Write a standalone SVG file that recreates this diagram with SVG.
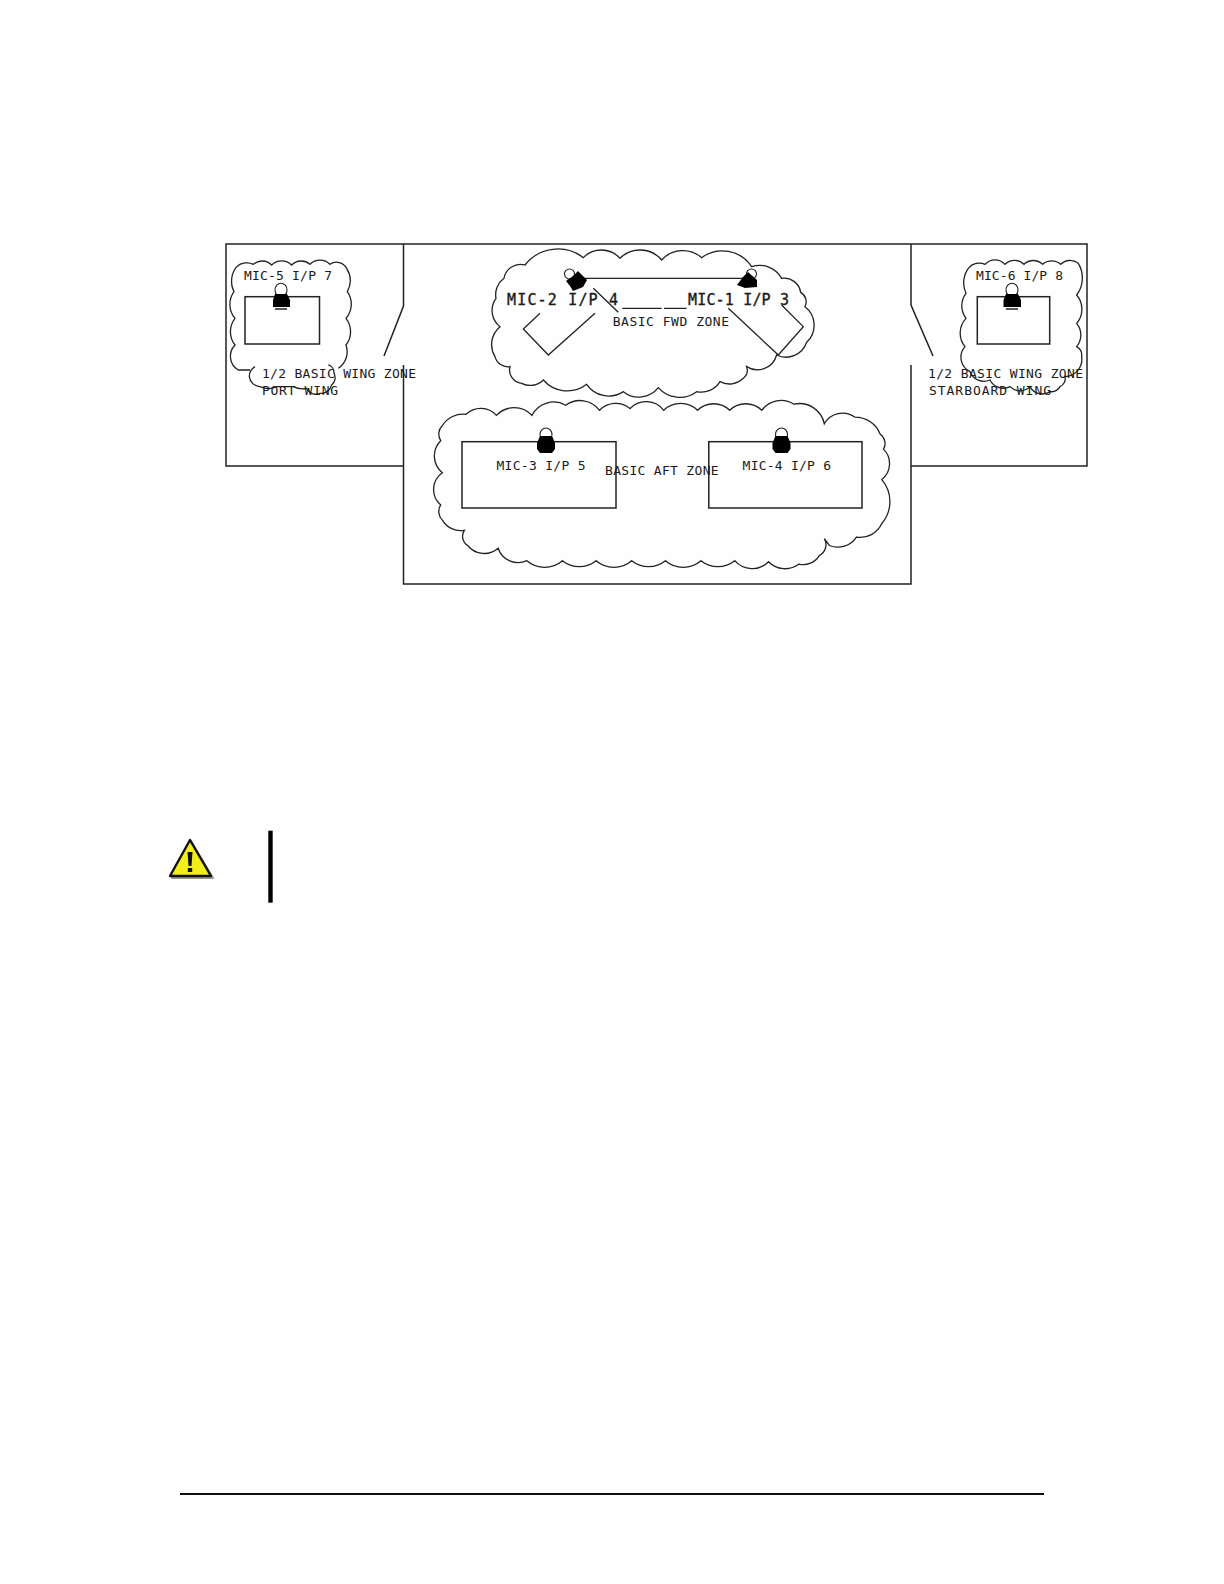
<svg xmlns="http://www.w3.org/2000/svg" width="1224" height="1584" viewBox="0 0 1224 1584">
<style>
.l{fill:none;stroke:#222;stroke-width:1.3;vector-effect:non-scaling-stroke}
.b{fill:none;stroke:#222;stroke-width:1.5}
.t{font-family:"DejaVu Sans Mono","Liberation Mono",monospace;font-size:13px;fill:#1a1a1a;lengthAdjust:spacingAndGlyphs}
.big{font-size:15px;stroke:#1a1a1a;stroke-width:.35}
.blk{fill:#000;stroke:none}
.wh{fill:#fff;stroke:#222;stroke-width:1.1}
</style>
<rect width="1224" height="1584" fill="#fefefe"/>
<g id="outline">
<path class="b" d="M403.5 365V466H226V244H1087V466H911V365M403.5 244V306L384 356M911 244V305L933 356M403.5 466V584H911V466"/>
</g>
<g id="zone-port" transform="translate(210 230) scale(.3333)">
<path class="l" d="M80 110A45 45 0 0 1 130 103A40 40 0 0 1 185 105A42 42 0 0 1 245 105A40 40 0 0 1 300 103A42 42 0 0 1 360 103A34 34 0 0 1 410 115A70 70 0 0 1 412 185A65 65 0 0 1 408 265A65 65 0 0 1 408 345A60 60 0 0 1 385 415"/>
<path class="l" d="M120 420H85A48 48 0 0 1 75 345A65 65 0 0 1 75 265A65 65 0 0 1 72 185A70 70 0 0 1 80 110"/>
<path class="l" d="M135 410A34 34 0 0 0 118 440A34 34 0 0 0 150 470A60 60 0 0 0 200 470H250A60 60 0 0 0 290 475A30 30 0 0 0 330 490A32 32 0 0 0 365 465A28 28 0 0 0 372 430A24 24 0 0 0 355 405"/>
</g>
<g id="zone-fwd" transform="translate(480 235) scale(.3333)">
<path class="l" d="M48 190A60 60 0 0 1 72 130A50 50 0 0 1 135 90A125 125 0 0 1 310 68A75 75 0 0 1 420 70A85 85 0 0 1 545 75A85 85 0 0 1 665 68A105 105 0 0 1 815 95A75 75 0 0 1 905 130A50 50 0 0 1 962 172A32 32 0 0 1 975 215A70 70 0 0 1 980 322A65 65 0 0 1 890 360A60 60 0 0 1 800 395A32 32 0 0 1 790 430A60 60 0 0 1 720 440A65 65 0 0 1 650 470A85 85 0 0 1 535 458A75 75 0 0 1 430 470A80 80 0 0 1 320 448A95 95 0 0 1 190 435A55 55 0 0 1 125 445A40 40 0 0 1 90 395A40 40 0 0 1 45 365A70 70 0 0 1 60 275A62 62 0 0 1 48 190Z"/>
</g>
<g id="zone-aft" transform="translate(390 390) scale(.338)">
<path class="l" d="M155 105A72 72 0 0 1 225 72A62 62 0 0 1 315 75A72 72 0 0 1 420 75A72 72 0 0 1 520 45A72 72 0 0 1 620 60A66 66 0 0 1 710 55A66 66 0 0 1 810 60A72 72 0 0 1 910 60A68 68 0 0 1 1005 60A68 68 0 0 1 1100 60A70 70 0 0 1 1195 42A75 75 0 0 1 1285 100A62 62 0 0 1 1375 80A80 80 0 0 1 1450 130A34 34 0 0 1 1460 175A60 60 0 0 1 1455 265A100 100 0 0 1 1455 395A70 70 0 0 1 1380 435A66 66 0 0 1 1300 460L1285 440A36 36 0 0 1 1270 490A55 55 0 0 1 1210 515A68 68 0 0 1 1120 508A68 68 0 0 1 1020 505A80 80 0 0 1 920 505A80 80 0 0 1 815 505A80 80 0 0 1 715 505A80 80 0 0 1 610 505A80 80 0 0 1 510 505A80 80 0 0 1 405 505A62 62 0 0 1 320 468A62 62 0 0 1 230 460A32 32 0 0 1 220 415A62 62 0 0 1 155 385A36 36 0 0 1 150 340A60 60 0 0 1 155 245A64 64 0 0 1 150 150A36 36 0 0 1 155 105Z"/>
</g>
<g id="zone-starboard" transform="translate(820 230) scale(.3333)">
<path class="l" d="M445 115A42 42 0 0 1 495 103A40 40 0 0 1 555 103A40 40 0 0 1 612 103A40 40 0 0 1 668 103A40 40 0 0 1 722 103A40 40 0 0 1 775 100A85 85 0 0 1 770 195A65 65 0 0 1 770 280A55 55 0 0 1 770 350A30 30 0 0 1 785 380A52 52 0 0 1 735 440A26 26 0 0 1 720 470A30 30 0 0 1 690 485A42 42 0 0 1 630 470A42 42 0 0 1 570 470A45 45 0 0 1 510 450A45 45 0 0 1 450 425A48 48 0 0 1 435 350A65 65 0 0 1 438 265A62 62 0 0 1 438 190A75 75 0 0 1 445 115Z"/>
</g>
<g id="connectors" transform="translate(480 235) scale(.3333)">
<path class="l" d="M300 130H800M427 220H545M552 220H620M745 220L895 360L970 275L905 210M180 235L130 282L205 360L345 235M340 160L415 232"/>
</g>
<g id="mic-5">
<rect class="b" x="245" y="296.700" width="74.500" height="47.300"/>
<ellipse class="wh" cx="281" cy="290" rx="6" ry="6.800"/><path class="blk" d="M275 294H287L290 300V307H273V300Z"/><path class="b" d="M275 309H287" stroke-width="1"/>
<text class="t" x="244" y="279.700" textLength="88">MIC-5 I/P 7</text>
</g>
<g id="mic-6">
<rect class="b" x="977.300" y="296.700" width="72.400" height="47.300"/>
<ellipse class="wh" cx="1012" cy="290" rx="6" ry="6.800"/><path class="blk" d="M1006 294H1018L1021 300V307H1003.500V300Z"/><path class="b" d="M1006 309H1018" stroke-width="1"/>
<text class="t" x="976" y="279.700" textLength="87">MIC-6 I/P 8</text>
</g>
<g id="mic-3">
<rect class="b" x="462" y="441.700" width="154" height="66.300"/>
<ellipse class="wh" cx="546" cy="434.500" rx="6" ry="6.500"/><path class="blk" d="M540 436H552L555 443V449L552 453H540L537 449V443Z"/>
<text class="t" x="496.500" y="470" textLength="89">MIC-3 I/P 5</text>
</g>
<g id="mic-4">
<rect class="b" x="708.800" y="441.700" width="153.200" height="66.300"/>
<ellipse class="wh" cx="781.500" cy="434.500" rx="6" ry="6.500"/><path class="blk" d="M775.500 436H787.500L790.500 443V449L787.500 453H775.500L772.500 449V443Z"/>
<text class="t" x="742.600" y="470" textLength="88.400">MIC-4 I/P 6</text>
</g>
<g id="mic-2">
<circle class="wh" cx="569.500" cy="274" r="5"/><path class="blk" d="M566 281L573 276L578 271L587 280L583 287L573 291L570 286Z"/>
<text class="t big" x="507" y="305.200" textLength="111">MIC-2 I/P 4</text>
</g>
<g id="mic-1">
<circle class="wh" cx="751.500" cy="274" r="5"/><path class="blk" d="M737 285L743 277L748 272L757 280L757 287L745 288Z"/>
<text class="t big" x="688" y="305.200" textLength="101">MIC-1 I/P 3</text>
</g>
<g id="labels">
<text class="t" x="262" y="377.500" textLength="154">1/2 BASIC WING ZONE</text>
<text class="t" x="262" y="395.200" textLength="76">PORT WING</text>
<text class="t" x="612.700" y="326" textLength="116.300">BASIC FWD ZONE</text>
<text class="t" x="605" y="475" textLength="113.600">BASIC AFT ZONE</text>
<text class="t" x="928" y="377.500" textLength="155">1/2 BASIC WING ZONE</text>
<text class="t" x="929" y="395.200" textLength="122">STARBOARD WING</text>
</g>
<g id="warning">
<path d="M191 841L213 878H172Z" fill="#999" stroke="#999" stroke-width="2" stroke-linejoin="round"/>
<path d="M190 840L170 876H211Z" fill="#f2ee1c" stroke="#111" stroke-width="2.400" stroke-linejoin="round"/>
<path d="M187.500 852H192.500L191.500 866H188.500Z" fill="#111"/><rect x="187.800" y="868" width="4.400" height="4" fill="#111"/>
<rect x="268.300" y="830.700" width="4.400" height="72" fill="#000"/>
</g>
<g id="footer"><rect x="180" y="1493" width="864" height="2" fill="#111"/></g>
</svg>
